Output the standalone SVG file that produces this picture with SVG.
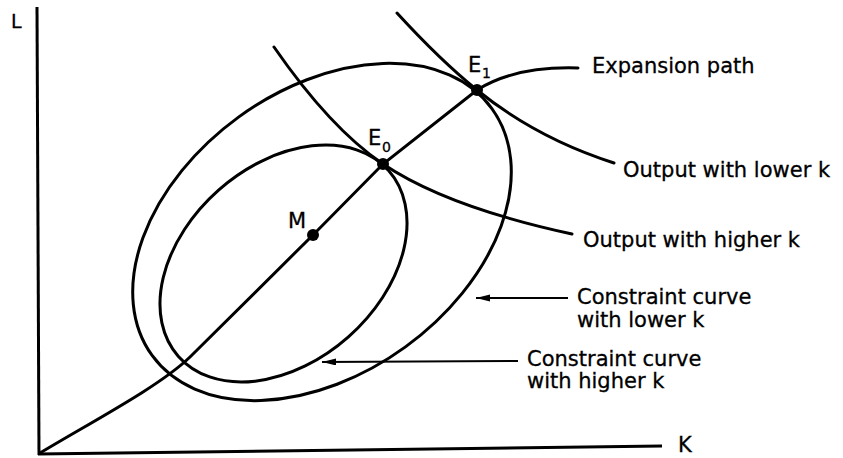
<svg xmlns="http://www.w3.org/2000/svg" width="843" height="458" viewBox="0 0 843 458">
  <style>
    .c { fill: none; stroke: #000; stroke-width: 3; stroke-linecap: round; }
    .ax { fill: none; stroke: #000; stroke-width: 3; }
    .ar { fill: none; stroke: #000; stroke-width: 2; }
    .t { font-family: "DejaVu Sans", "Liberation Sans", sans-serif; font-size: 21px; fill: #000; stroke: #000; stroke-width: 0.3; }
    .sub { font-family: "DejaVu Sans", "Liberation Sans", sans-serif; font-size: 14px; fill: #000; stroke: #000; stroke-width: 0.3; }
    .dot { fill: #000; }
  </style>
  <defs>
    <marker id="ah" markerUnits="userSpaceOnUse" markerWidth="15" markerHeight="8" refX="14" refY="3.5" orient="auto">
      <path d="M0,0 L14,3.5 L0,7 Z" fill="#000"/>
    </marker>
  </defs>
  <rect width="843" height="458" fill="#fff"/>

  <g id="axes">
    <line class="ax" x1="37" y1="7" x2="39" y2="455"/>
    <line class="ax" x1="38" y1="454" x2="662" y2="446"/>
    <text class="t" x="11" y="28" style="font-size:19px">L</text>
    <text class="t" x="678" y="452">K</text>
  </g>

  <g id="constraint-lower-k">
    <ellipse class="c" cx="322" cy="232" rx="210" ry="142" transform="rotate(-36 322 232)"/>
  </g>
  <g id="constraint-higher-k">
    <ellipse class="c" cx="283.5" cy="263.5" rx="140.3" ry="98" transform="rotate(-41.5 283.5 263.5)"/>
  </g>

  <g id="output-higher-k">
    <path class="c" d="M274,47 Q330,128 383,164 Q447,207 572,234"/>
  </g>
  <g id="output-lower-k">
    <path class="c" d="M397,13 Q440,60 477,90 Q536,138 614,163"/>
  </g>

  <g id="expansion-path">
    <path class="c" d="M40,453 C95,420 160,386 190,357 L313,235 L383,164 L477,90 Q515,66 578,68"/>
  </g>

  <g id="points">
    <g id="M"><circle class="dot" cx="313" cy="235" r="6"/><text class="t" x="288" y="228">M</text></g>
    <g id="E0"><circle class="dot" cx="383" cy="164" r="6"/><text class="t" x="368" y="145">E</text><text class="sub" x="382" y="152">0</text></g>
    <g id="E1"><circle class="dot" cx="477" cy="90" r="6"/><text class="t" x="468" y="72">E</text><text class="sub" x="482" y="78">1</text></g>
  </g>

  <g id="connectors">
    <line class="ar" x1="568" y1="298" x2="476" y2="298" marker-end="url(#ah)"/>
    <line class="ar" x1="518" y1="361" x2="322" y2="362" marker-end="url(#ah)"/>
  </g>

  <g id="labels">
    <text class="t" x="592" y="73">Expansion path</text>
    <text class="t" x="623" y="177">Output with lower k</text>
    <text class="t" x="583" y="247">Output with higher k</text>
    <text class="t" x="577" y="304">Constraint curve</text>
    <text class="t" x="577" y="327">with lower k</text>
    <text class="t" x="527" y="366">Constraint curve</text>
    <text class="t" x="527" y="388">with higher k</text>
  </g>
</svg>
